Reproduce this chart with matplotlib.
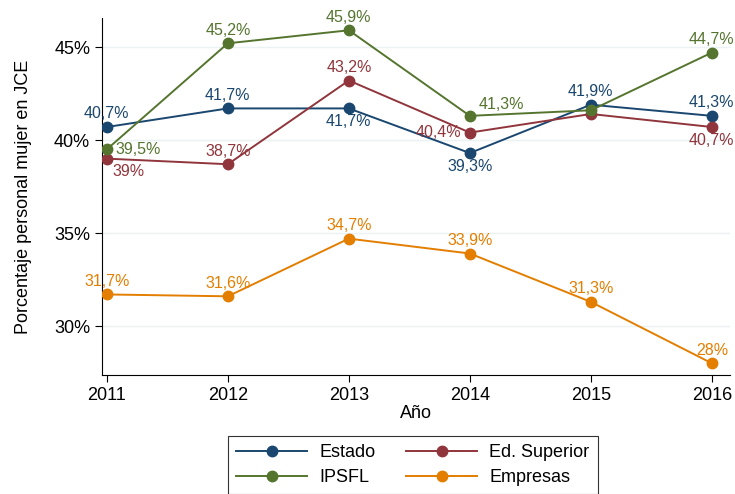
import matplotlib
matplotlib.use("Agg")
import matplotlib.pyplot as plt
from matplotlib.ticker import FuncFormatter

plt.rcParams['font.family'] = ['Liberation Sans', 'DejaVu Sans']

# datos
anios = [2011, 2012, 2013, 2014, 2015, 2016]
estado = [40.7, 41.7, 41.7, 39.3, 41.9, 41.3]
ed_superior = [39.0, 38.7, 43.2, 40.4, 41.4, 40.7]
ipsfl = [39.5, 45.2, 45.9, 41.3, 41.6, 44.7]
empresas = [31.7, 31.6, 34.7, 33.9, 31.3, 28.0]

# posicion de cada etiqueta (None = sin etiqueta)
pos_estado = ['n', 'n', 's', 's', 'n', 'n']
pos_edsup = ['se', 'n', 'n', 'w', None, 's']
pos_ipsfl = ['e', 'n', 'n', 'ne', None, 'n']
pos_empresas = ['n', 'n', 'n', 'n', 'n', 'n']

series = [
    ("Estado", estado, pos_estado, "#1a476f"),
    ("Ed. Superior", ed_superior, pos_edsup, "#90353b"),
    ("IPSFL", ipsfl, pos_ipsfl, "#55752f"),
    ("Empresas", empresas, pos_empresas, "#e37e00"),
]

offsets = {
    'n': ((0, 4), 'center', 'bottom'),
    's': ((0, -4), 'center', 'top'),
    'e': ((6, 0), 'left', 'center'),
    'w': ((-6, 0), 'right', 'center'),
    'ne': ((6, 3), 'left', 'bottom'),
    'se': ((4, -4), 'left', 'top'),
}


def fmt(v):
    s = f"{v:.1f}".replace(".", ",")
    if s.endswith(",0"):
        s = s[:-2]
    return s + "%"


fig = plt.figure(figsize=(7.35, 4.94), dpi=100)
ax = fig.add_axes([102 / 735, 1 - 375 / 494, 628 / 735, 357 / 494])

lineas = {}
for nombre, vals, pos, color in series:
    ln, = ax.plot(anios, vals, color=color, marker='o', markersize=7.5,
                  linewidth=1.4, label=nombre, zorder=3)
    lineas[nombre] = ln
    for x, v, p in zip(anios, vals, pos):
        if p is None:
            continue
        (dx, dy), ha, va = offsets[p]
        ax.annotate(fmt(v), (x, v), xytext=(dx, dy), textcoords='offset points',
                    ha=ha, va=va, color=color, fontsize=11.5)

ax.set_xlim(2010.96, 2016.15)
ax.set_ylim(27.37, 46.56)
ax.set_xticks(anios)
ax.set_yticks([30, 35, 40, 45])
ax.yaxis.set_major_formatter(FuncFormatter(lambda v, _: f"{v:.0f}%"))
ax.grid(axis='y', color='#eaf2f3', linewidth=1)
ax.set_axisbelow(True)
for s in ['top', 'right']:
    ax.spines[s].set_visible(False)
ax.tick_params(labelsize=13, length=5)
ax.set_xlabel("Año", fontsize=13, labelpad=1)
ax.set_ylabel("Porcentaje personal mujer en JCE", fontsize=13, labelpad=16)

# orden por columnas para que las filas queden como en el original
orden = ["Estado", "IPSFL", "Ed. Superior", "Empresas"]
leg = fig.legend([lineas[n] for n in orden], orden,
                 loc='upper center', bbox_to_anchor=(413 / 735, 1 - 436 / 494),
                 borderaxespad=0, ncol=2, fontsize=13, frameon=True,
                 fancybox=False, edgecolor='black', handlelength=3.9,
                 handletextpad=0.7, columnspacing=1.7, borderpad=0.45,
                 labelspacing=0.45)
leg.get_frame().set_linewidth(0.8)

fig.savefig("out.png", dpi=100)
